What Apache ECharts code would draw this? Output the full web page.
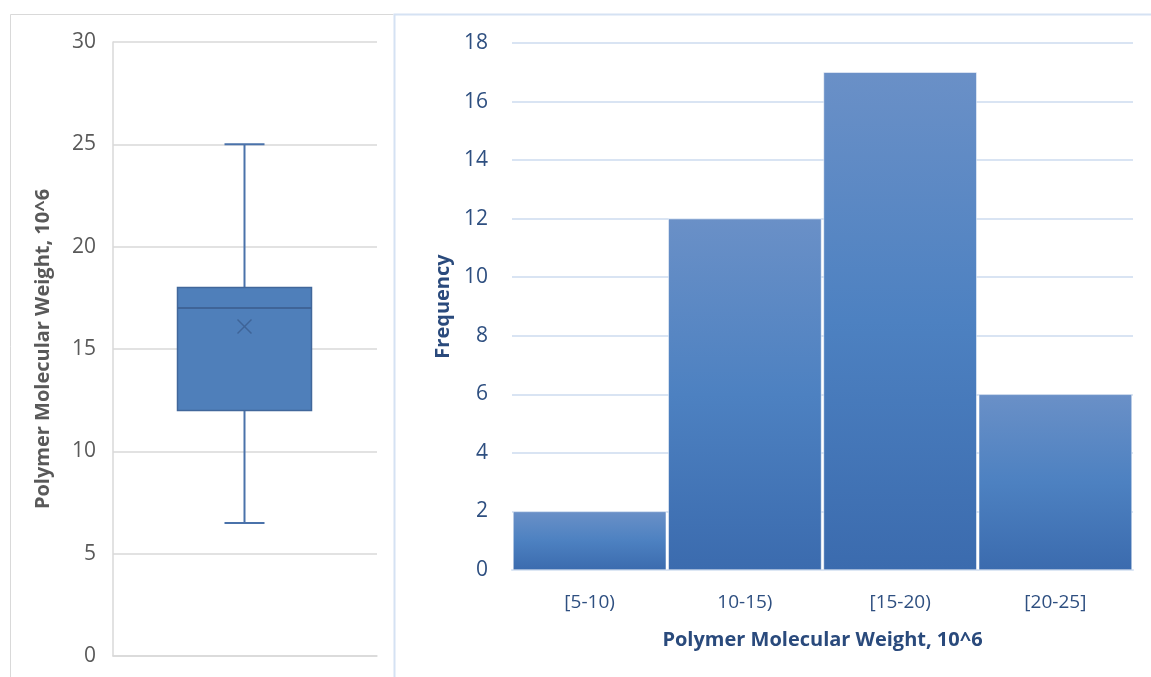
<!DOCTYPE html>
<html>
<head>
<meta charset="utf-8">
<script src="https://cdn.jsdelivr.net/npm/echarts@6/dist/echarts.min.js"></script>
<style>
html,body{margin:0;padding:0;background:#fff;}
#main{width:1151px;height:677px;}
</style>
</head>
<body>
<div id="main"></div>
<script>
// Box plot summary: [min, Q1, median, Q3, max, mean]
const boxCategories = ['Polymer'];
const boxStats = [6.5, 12, 17, 18, 25, 16.1];
const boxYTicks = [0, 5, 10, 15, 20, 25, 30];

// Histogram
const histCategories = ['[5-10)', '10-15)', '[15-20)', '[20-25]'];
const histValues = [2, 12, 17, 6];
const histYTicks = [0, 2, 4, 6, 8, 10, 12, 14, 16, 18];

const FONT = '"Open Sans", "Noto Sans", sans-serif';
const chart = echarts.init(document.getElementById('main'));

const option = {
  backgroundColor: '#ffffff',
  animation: false,
  graphic: [
    { type: 'polyline', shape: { points: [[10.5, 700], [10.5, 14.5], [393.5, 14.5]] },
      style: { stroke: '#d9d9d9', lineWidth: 1, fill: null }, silent: true },
    { type: 'polyline', shape: { points: [[394.5, 700], [394.5, 14.5], [1160, 14.5]] },
      style: { stroke: '#d5e2f3', lineWidth: 2, fill: null }, silent: true }
  ],
  grid: [
    { left: 113, right: 1151 - 377, top: 42, bottom: 677 - 656 },
    { left: 512, right: 1151 - 1133, top: 43, bottom: 677 - 570 }
  ],
  xAxis: [
    { type: 'category', gridIndex: 0, data: boxCategories,
      axisLine: { show: true, lineStyle: { color: '#d9d9d9', width: 1.5 } },
      axisTick: { show: false }, axisLabel: { show: false }, splitLine: { show: false } },
    { type: 'category', gridIndex: 1, data: histCategories,
      axisLine: { show: true, lineStyle: { color: '#d9e4f3', width: 2 } },
      axisTick: { show: false },
      axisLabel: { color: '#2e4f80', fontFamily: FONT, fontSize: 19, margin: 23 },
      name: 'Polymer Molecular Weight, 10^6', nameLocation: 'middle', nameGap: 60,
      nameTextStyle: { color: '#2a4a7c', fontFamily: FONT, fontSize: 20, fontWeight: 'bold' } }
  ],
  yAxis: [
    { type: 'value', gridIndex: 0, min: boxYTicks[0], max: boxYTicks[boxYTicks.length - 1], interval: 5,
      axisLine: { show: true, lineStyle: { color: '#d9d9d9', width: 1.5 } },
      axisTick: { show: false },
      axisLabel: { color: '#595959', fontFamily: FONT, fontSize: 21, margin: 17 },
      splitLine: { lineStyle: { color: '#d9d9d9', width: 1.5 } },
      name: 'Polymer Molecular Weight, 10^6', nameLocation: 'middle', nameGap: 60,
      nameTextStyle: { color: '#595959', fontFamily: FONT, fontSize: 20, fontWeight: 'bold' } },
    { type: 'value', gridIndex: 1, min: histYTicks[0], max: histYTicks[histYTicks.length - 1], interval: 2,
      axisLine: { show: false }, axisTick: { show: false },
      axisLabel: { color: '#2e4f80', fontFamily: FONT, fontSize: 21, margin: 24 },
      splitLine: { lineStyle: { color: '#d9e4f3', width: 2 } },
      name: 'Frequency', nameLocation: 'middle', nameGap: 56,
      nameTextStyle: { color: '#2a4a7c', fontFamily: FONT, fontSize: 20, fontWeight: 'bold' } }
  ],
  series: [
    {
      type: 'custom', xAxisIndex: 0, yAxisIndex: 0,
      data: [[0].concat(boxStats)],
      renderItem: function (params, api) {
        const c = api.value(0);
        const pMin = api.coord([c, api.value(1)]);
        const pQ1 = api.coord([c, api.value(2)]);
        const pMed = api.coord([c, api.value(3)]);
        const pQ3 = api.coord([c, api.value(4)]);
        const pMax = api.coord([c, api.value(5)]);
        const pMean = api.coord([c, api.value(6)]);
        const x = Math.round(pMin[0]) - 0.5;
        const boxHalf = 67, capHalf = 20, m = 7;
        const whisker = { stroke: '#4a72aa', lineWidth: 2 };
        return {
          type: 'group',
          children: [
            { type: 'line', shape: { x1: x, y1: pMax[1], x2: x, y2: pQ3[1] }, style: whisker },
            { type: 'line', shape: { x1: x, y1: pQ1[1], x2: x, y2: pMin[1] }, style: whisker },
            { type: 'line', shape: { x1: x - capHalf, y1: pMax[1], x2: x + capHalf, y2: pMax[1] }, style: whisker },
            { type: 'line', shape: { x1: x - capHalf, y1: pMin[1], x2: x + capHalf, y2: pMin[1] }, style: whisker },
            { type: 'rect', shape: { x: x - boxHalf, y: pQ3[1], width: boxHalf * 2, height: pQ1[1] - pQ3[1] },
              style: { fill: '#4f7fba', stroke: '#41679b', lineWidth: 1.5 } },
            { type: 'line', shape: { x1: x - boxHalf, y1: pMed[1], x2: x + boxHalf, y2: pMed[1] },
              style: { stroke: '#3f6497', lineWidth: 2 } },
            { type: 'line', shape: { x1: x - m, y1: pMean[1] - m, x2: x + m, y2: pMean[1] + m },
              style: { stroke: '#3f6497', lineWidth: 1.5 } },
            { type: 'line', shape: { x1: x - m, y1: pMean[1] + m, x2: x + m, y2: pMean[1] - m },
              style: { stroke: '#3f6497', lineWidth: 1.5 } }
          ]
        };
      }
    },
    {
      type: 'bar', xAxisIndex: 1, yAxisIndex: 1,
      data: histValues,
      barCategoryGap: '1.3%',
      itemStyle: {
        color: new echarts.graphic.LinearGradient(0, 0, 0, 1, [
          { offset: 0, color: '#6a90c7' },
          { offset: 0.5, color: '#4d81c1' },
          { offset: 1, color: '#3b6bae' }
        ]),
        borderColor: '#ffffff', borderWidth: 0.5
      }
    }
  ]
};
chart.setOption(option);
</script>
</body>
</html>
